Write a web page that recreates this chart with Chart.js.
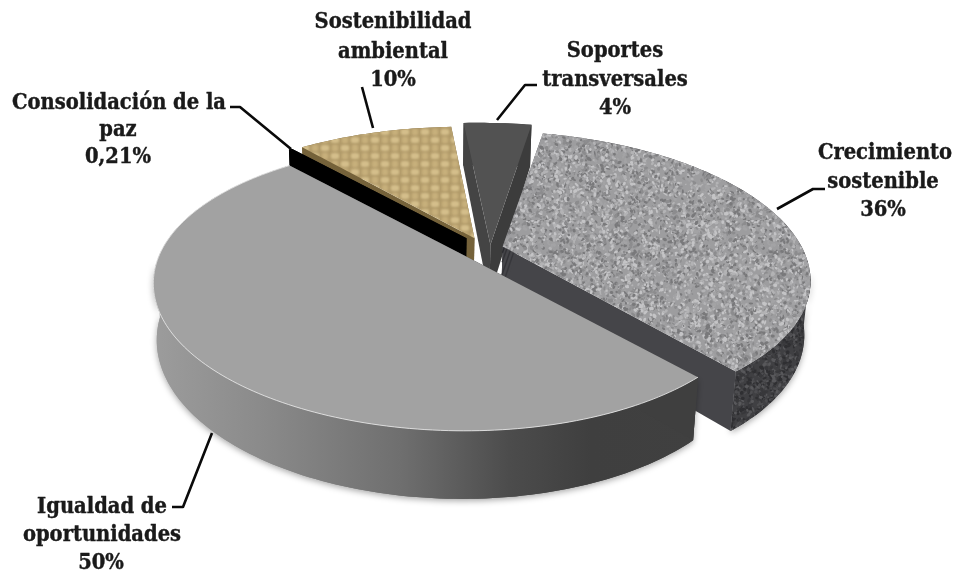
<!DOCTYPE html>
<html lang="es">
<head>
<meta charset="utf-8">
<title>Distribución por categoría</title>
<script src="https://cdn.jsdelivr.net/npm/chart.js@4"></script>
<style>
  html, body { margin: 0; padding: 0; background: #fff; }
  canvas { display: block; }
</style>
</head>
<body>
<canvas id="chart" width="955" height="571"></canvas>
<script>
const categories = ['Igualdad de oportunidades', 'Consolidación de la paz', 'Sostenibilidad ambiental', 'Soportes transversales', 'Crecimiento sostenible'];
const values = [50, 0.21, 10, 4, 36];
const valueLabels = ['50%', '0,21%', '10%', '4%', '36%'];
const labelLines = [['Igualdad de', 'oportunidades'], ['Consolidación de la', 'paz'], ['Sostenibilidad', 'ambiental'], ['Soportes', 'transversales'], ['Crecimiento', 'sostenible']];

// where each label block sits: one [x, y] per text row
const labelSpots = [
  [[102, 507], [102, 535], [101, 563]],
  [[119, 103], [118, 130], [118, 157]],
  [[393, 22], [393, 52], [393, 80]],
  [[615, 51], [615, 80], [615, 108]],
  [[885, 153], [883, 182], [883, 210]]
];
const leaders = [
  [[172, 507], [183, 507], [212, 433]],
  [[230, 107], [240, 107], [291, 149]],
  [[362, 87], [373, 128]],
  [[537, 85], [525, 85], [497, 120]],
  [[825, 189], [813, 189], [777, 209]]
];

// camera of the tilted disc
const cam = { ox: 470, oy: 245, r: 292, rs: 133, k: 0.246, depth: 53, shrink: 0.015, tilt: 1.2 * Math.PI / 180 };

function project(u, v, z, st) {
  const w = 1 - (st.k === undefined ? cam.k : st.k) * v;
  const s = 1 - cam.shrink * z;
  const x = s * cam.r * u / w;
  const y = s * cam.rs * v / w + cam.depth * z / w;
  const c = Math.cos(cam.tilt), t = Math.sin(cam.tilt);
  return [cam.ox + st.nudge[0] + x * c - y * t, cam.oy + st.nudge[1] + x * t + y * c];
}

function trace(ctx, pts) {
  ctx.beginPath();
  pts.forEach((p, i) => i ? ctx.lineTo(p[0], p[1]) : ctx.moveTo(p[0], p[1]));
  ctx.closePath();
}

function makeTile(w, h) {
  const c = document.createElement('canvas');
  c.width = w; c.height = h;
  return c;
}

// mottled stone, seeded so every render gives the same tile
function stoneTile(ctx, base, shades) {
  const tile = makeTile(220, 220);
  const g = tile.getContext('2d');
  g.fillStyle = base;
  g.fillRect(0, 0, 220, 220);
  g.filter = 'blur(0.6px)';
  let seed = 48271;
  const next = () => (seed = (seed * 16807) % 2147483647) / 2147483647;
  for (let i = 0; i < 7000; i++) {
    g.fillStyle = shades[Math.floor(next() * shades.length)];
    g.beginPath();
    g.ellipse(next() * 220, next() * 220, 0.9 + next() * 1.7, 0.7 + next() * 1.1, next() * 3, 0, Math.PI * 2);
    g.fill();
  }
  return ctx.createPattern(tile, 'repeat');
}

// woven sack cloth
function clothTile(ctx) {
  const tile = makeTile(20, 16);
  const g = tile.getContext('2d');
  g.fillStyle = '#b29b6a';
  g.fillRect(0, 0, 20, 16);
  g.filter = 'blur(0.8px)';
  [[5, 4], [15, 12]].forEach(p => {
    g.fillStyle = '#d4be8b';
    g.beginPath(); g.ellipse(p[0], p[1], 4.4, 3.2, 0, 0, Math.PI * 2); g.fill();
  });
  [[15, 4], [5, 12]].forEach(p => {
    g.fillStyle = '#c6af7b';
    g.beginPath(); g.ellipse(p[0], p[1], 3.4, 3.8, 0, 0, Math.PI * 2); g.fill();
  });
  return ctx.createPattern(tile, 'repeat');
}

function sliceStyles(ctx) {
  const side = ctx.createLinearGradient(155, 0, 700, 0);
  side.addColorStop(0, '#9c9c9c');
  side.addColorStop(0.2, '#8a8a8a');
  side.addColorStop(0.45, '#6f6f6f');
  side.addColorStop(0.65, '#4c4c4c');
  side.addColorStop(0.8, '#3f3f3f');
  side.addColorStop(1, '#404040');
  const granite = stoneTile(ctx, '#9d9d9f', ['#79797b', '#8c8c8e', '#b3b3b5', '#c4c4c6', '#a3a3a5']);
  const darkStone = stoneTile(ctx, '#404043', ['#2f2f32', '#38383b', '#4d4d50', '#58585b']);
  // twist, nudge and reach make up for the picture's stronger perspective
  return [
    { top: '#a2a2a2', outer: side, left: '#3f3f3f', right: '#3f3f3f', rim: 'rgba(226,226,226,0.9)', off: 10, twist: -2, nudge: [-5, 4], reach: 1 },
    { top: '#000000', outer: '#000000', left: '#000000', right: '#000000', off: 20, twist: -2.5, nudge: [10, 0], reach: 1.08 },
    { top: clothTile(ctx), outer: '#75623a', left: '#6b5a35', right: '#75623a', off: 14, twist: -1.5, nudge: [10, -1], reach: 1.08 },
    { top: '#525252', outer: '#3f3f3f', left: '#3c3c3c', right: '#444444', off: 16, twist: -1.5, nudge: [20, 7], reach: 1.22 },
    { top: granite, outer: darkStone, left: '#454549', right: '#454549', layers: true, off: 34, twist: 0, nudge: [0, 5], reach: 1.04, k: 0.18 }
  ];
}

function drawSlice(ctx, arc, st) {
  const tw = st.twist * Math.PI / 180;
  const a0 = arc.startAngle + tw, a1 = arc.endAngle + tw;
  const mid = (a0 + a1) / 2;
  const du = Math.cos(mid) * st.off / cam.r, dv = Math.sin(mid) * st.off / cam.r;
  const n = Math.max(2, Math.ceil((a1 - a0) / 0.02));
  const angle = i => a0 + (a1 - a0) * i / n;
  const rimAt = z => {
    const pts = [];
    for (let i = 0; i <= n; i++) {
      pts.push(project(du + st.reach * Math.cos(angle(i)), dv + st.reach * Math.sin(angle(i)), z, st));
    }
    return pts;
  };
  const top = rimAt(0), low = rimAt(1);
  const hubT = project(du, dv, 0, st), hubB = project(du, dv, 1, st);

  // soft ground shadow, only under the front part of the wall
  const front = [];
  for (let i = 0; i <= n; i++) if (Math.sin(angle(i)) > 0.12) front.push(i);
  if (front.length > 1) {
    ctx.save();
    ctx.shadowColor = 'rgba(0,0,0,0.35)';
    ctx.shadowBlur = 6;
    ctx.shadowOffsetY = 2;
    ctx.fillStyle = st.outer;
    trace(ctx, front.map(i => top[i]).concat(front.map(i => low[i]).reverse()));
    ctx.fill();
    ctx.restore();
  }
  ctx.fillStyle = st.outer;
  trace(ctx, top.concat(low.slice().reverse()));
  ctx.fill();

  // radial walls
  ctx.fillStyle = st.left;
  trace(ctx, [top[n], hubT, hubB, low[n]]);
  ctx.fill();
  ctx.fillStyle = st.right;
  trace(ctx, [top[0], hubT, hubB, low[0]]);
  ctx.fill();

  if (st.layers) {
    // stacked bands along the cut faces
    ctx.lineWidth = 1.4;
    [[0.12, '#2b2b2f'], [0.3, '#333337'], [0.55, '#333337'], [0.8, '#37373b']].forEach(b => {
      ctx.strokeStyle = b[1];
      ctx.beginPath();
      const p = project(du + st.reach * Math.cos(a0), dv + st.reach * Math.sin(a0), b[0], st);
      const h = project(du, dv, b[0], st);
      ctx.moveTo(p[0], p[1]);
      ctx.lineTo(h[0], h[1]);
      ctx.stroke();
    });
  }

  ctx.fillStyle = st.top;
  trace(ctx, [hubT].concat(top));
  ctx.fill();

  if (st.rim) {
    ctx.strokeStyle = st.rim;
    ctx.lineWidth = 1;
    ctx.beginPath();
    top.forEach((p, i) => i ? ctx.lineTo(p[0], p[1]) : ctx.moveTo(p[0], p[1]));
    ctx.stroke();
  }
}

const pie3d = {
  id: 'pie3d',
  beforeDatasetsDraw(chart) {
    const ctx = chart.ctx;
    const meta = chart.getDatasetMeta(0);
    const styles = sliceStyles(ctx);
    // back to front: cloth, sliver, dark wedge, stone, then the big front slice
    [2, 1, 3, 4, 0].forEach(i => {
      const arc = meta.data[i].getProps(['startAngle', 'endAngle'], true);
      drawSlice(ctx, arc, styles[i]);
    });
    return false;
  },
  afterDraw(chart) {
    const ctx = chart.ctx;
    ctx.save();
    ctx.strokeStyle = '#0a0a0a';
    ctx.lineWidth = 2.6;
    ctx.lineJoin = 'round';
    leaders.forEach(line => {
      ctx.beginPath();
      line.forEach((p, i) => i ? ctx.lineTo(p[0], p[1]) : ctx.moveTo(p[0], p[1]));
      ctx.stroke();
    });
    ctx.fillStyle = '#1a1a1a';
    ctx.strokeStyle = '#1a1a1a';
    ctx.lineWidth = 0.4;
    ctx.font = 'bold 21.7px "DejaVu Serif Condensed", "DejaVu Serif"';
    ctx.textAlign = 'center';
    ctx.textBaseline = 'middle';
    labelLines.forEach((rows, i) => {
      rows.concat(valueLabels[i]).forEach((text, j) => {
        ctx.fillText(text, labelSpots[i][j][0], labelSpots[i][j][1]);
        ctx.strokeText(text, labelSpots[i][j][0], labelSpots[i][j][1]);
      });
    });
    ctx.restore();
  }
};

new Chart(document.getElementById('chart'), {
  type: 'pie',
  data: {
    labels: categories,
    datasets: [{ data: values, borderWidth: 0, backgroundColor: '#a2a2a2' }]
  },
  options: {
    responsive: false,
    animation: false,
    rotation: 139,
    events: [],
    plugins: { legend: { display: false }, tooltip: { enabled: false } }
  },
  plugins: [pie3d]
});
</script>
</body>
</html>
